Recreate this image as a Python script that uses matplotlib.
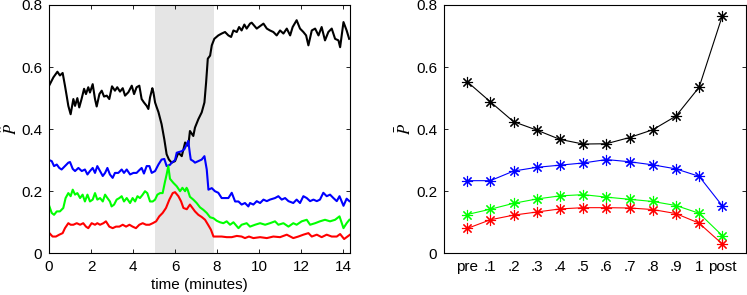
import matplotlib
matplotlib.use("Agg")
import matplotlib.pyplot as plt
from matplotlib.ticker import FuncFormatter

plt.rcParams['font.family'] = ['Liberation Sans', 'DejaVu Sans']
plt.rcParams['mathtext.fontset'] = 'stix'

# ---------------- left panel data (time series) ----------------
black_t = [0.02, 0.21, 0.40, 0.52, 0.65, 0.76, 0.84, 0.92, 1.03, 1.16, 1.24, 1.35, 1.44, 1.55, 1.67, 1.76,
           1.87, 1.95, 2.08, 2.19, 2.27, 2.40, 2.51, 2.62, 2.75, 2.87, 3.00, 3.14, 3.25, 3.38, 3.51, 3.62,
           3.78, 3.94, 4.05, 4.17, 4.30, 4.41, 4.52, 4.65, 4.73, 4.81, 4.92, 4.97, 5.05, 5.13, 5.21, 5.36,
           5.49, 5.60, 5.71, 5.84, 6.00, 6.16, 6.32, 6.48, 6.63, 6.71, 6.87, 6.95, 7.11, 7.27, 7.40, 7.48,
           7.56, 7.67, 7.75, 7.87, 8.06, 8.22, 8.38, 8.54, 8.67, 8.78, 8.94, 9.05, 9.17, 9.30, 9.41, 9.57,
           9.65, 9.89, 10.05, 10.21, 10.37, 10.52, 10.68, 10.84, 11.00, 11.16, 11.32, 11.48, 11.60, 11.79,
           11.95, 12.11, 12.24, 12.35, 12.51, 12.67, 12.83, 12.98, 13.14, 13.30, 13.46, 13.62, 13.78, 13.86,
           14.02, 14.17, 14.29]
black_v = [0.542, 0.567, 0.585, 0.573, 0.581, 0.540, 0.508, 0.475, 0.448, 0.497, 0.475, 0.500, 0.470, 0.497,
           0.530, 0.513, 0.535, 0.518, 0.545, 0.497, 0.473, 0.513, 0.524, 0.505, 0.508, 0.497, 0.538, 0.524,
           0.535, 0.521, 0.532, 0.508, 0.519, 0.540, 0.513, 0.535, 0.540, 0.497, 0.486, 0.475, 0.465, 0.502,
           0.532, 0.519, 0.486, 0.470, 0.455, 0.416, 0.367, 0.319, 0.302, 0.292, 0.297, 0.324, 0.313, 0.357,
           0.346, 0.394, 0.378, 0.405, 0.432, 0.454, 0.486, 0.551, 0.627, 0.637, 0.670, 0.691, 0.702, 0.708,
           0.713, 0.702, 0.697, 0.718, 0.713, 0.729, 0.718, 0.737, 0.724, 0.740, 0.743, 0.724, 0.732, 0.740,
           0.724, 0.718, 0.713, 0.702, 0.718, 0.708, 0.724, 0.702, 0.729, 0.751, 0.724, 0.713, 0.702, 0.670,
           0.718, 0.724, 0.702, 0.729, 0.686, 0.713, 0.724, 0.691, 0.686, 0.664, 0.745, 0.718, 0.691]

blue_t = [0.02, 0.13, 0.24, 0.37, 0.49, 0.60, 0.76, 0.92, 1.00, 1.13, 1.24, 1.40, 1.56, 1.71, 1.83, 1.95,
          2.08, 2.19, 2.30, 2.43, 2.56, 2.67, 2.78, 2.90, 3.03, 3.14, 3.30, 3.46, 3.57, 3.70, 3.86, 4.02,
          4.17, 4.30, 4.41, 4.52, 4.65, 4.78, 4.89, 5.05, 5.21, 5.36, 5.49, 5.60, 5.76, 5.84, 6.00, 6.08,
          6.32, 6.44, 6.56, 6.63, 6.71, 6.75, 6.87, 6.95, 7.11, 7.27, 7.40, 7.51, 7.59, 7.75, 7.90, 8.06,
          8.22, 8.38, 8.54, 8.70, 8.86, 9.02, 9.17, 9.33, 9.49, 9.57, 9.73, 9.89, 10.05, 10.21, 10.37, 10.52,
          10.76, 10.92, 11.08, 11.24, 11.40, 11.63, 11.79, 11.95, 12.11, 12.27, 12.43, 12.59, 12.75, 12.90,
          13.06, 13.22, 13.38, 13.54, 13.70, 13.83, 14.02, 14.17, 14.30]
blue_v = [0.300, 0.297, 0.281, 0.286, 0.275, 0.270, 0.281, 0.292, 0.294, 0.272, 0.265, 0.275, 0.265, 0.270,
          0.254, 0.265, 0.275, 0.259, 0.281, 0.265, 0.249, 0.259, 0.275, 0.254, 0.243, 0.259, 0.259, 0.270,
          0.259, 0.270, 0.254, 0.259, 0.259, 0.268, 0.275, 0.257, 0.281, 0.281, 0.259, 0.265, 0.286, 0.302,
          0.304, 0.281, 0.285, 0.292, 0.300, 0.324, 0.329, 0.335, 0.351, 0.362, 0.320, 0.302, 0.297, 0.292,
          0.297, 0.302, 0.313, 0.270, 0.205, 0.210, 0.200, 0.195, 0.178, 0.178, 0.178, 0.195, 0.167, 0.167,
          0.157, 0.162, 0.151, 0.162, 0.157, 0.168, 0.162, 0.173, 0.168, 0.173, 0.178, 0.184, 0.173, 0.178,
          0.168, 0.162, 0.173, 0.162, 0.184, 0.178, 0.168, 0.173, 0.168, 0.173, 0.195, 0.184, 0.189, 0.178,
          0.168, 0.184, 0.153, 0.176, 0.168]

green_t = [0.02, 0.13, 0.24, 0.37, 0.52, 0.68, 0.79, 0.92, 1.03, 1.13, 1.24, 1.35, 1.48, 1.60, 1.71, 1.83,
           1.95, 2.08, 2.19, 2.30, 2.43, 2.56, 2.67, 2.78, 2.90, 2.98, 3.10, 3.22, 3.35, 3.46, 3.57, 3.70,
           3.86, 3.98, 4.10, 4.21, 4.33, 4.46, 4.57, 4.68, 4.81, 4.94, 5.05, 5.16, 5.29, 5.41, 5.52, 5.60,
           5.68, 5.76, 5.92, 6.08, 6.24, 6.35, 6.48, 6.55, 6.60, 6.71, 6.87, 7.03, 7.19, 7.35, 7.51, 7.67,
           7.83, 7.98, 8.14, 8.30, 8.46, 8.62, 8.78, 9.02, 9.17, 9.41, 9.57, 9.81, 10.05, 10.29, 10.52, 10.76,
           10.92, 11.16, 11.40, 11.63, 11.79, 12.03, 12.27, 12.43, 12.67, 12.90, 13.14, 13.38, 13.62, 13.83,
           14.02, 14.17, 14.30]
green_v = [0.151, 0.130, 0.124, 0.135, 0.135, 0.146, 0.178, 0.194, 0.184, 0.205, 0.189, 0.194, 0.178, 0.189,
           0.167, 0.189, 0.167, 0.173, 0.194, 0.173, 0.178, 0.167, 0.189, 0.178, 0.167, 0.151, 0.157, 0.173,
           0.178, 0.184, 0.167, 0.178, 0.162, 0.178, 0.167, 0.184, 0.178, 0.189, 0.200, 0.194, 0.167, 0.167,
           0.173, 0.189, 0.194, 0.194, 0.230, 0.254, 0.281, 0.240, 0.227, 0.216, 0.200, 0.211, 0.200, 0.211,
           0.205, 0.182, 0.173, 0.162, 0.148, 0.140, 0.130, 0.116, 0.113, 0.105, 0.100, 0.097, 0.103, 0.092,
           0.100, 0.081, 0.092, 0.097, 0.086, 0.092, 0.097, 0.092, 0.097, 0.103, 0.092, 0.097, 0.086, 0.097,
           0.092, 0.103, 0.108, 0.092, 0.097, 0.103, 0.108, 0.103, 0.108, 0.119, 0.081, 0.097, 0.108]

red_t = [0.02, 0.17, 0.33, 0.49, 0.65, 0.76, 0.92, 1.03, 1.16, 1.32, 1.48, 1.63, 1.76, 1.87, 2.03, 2.19,
         2.30, 2.43, 2.59, 2.71, 2.87, 3.03, 3.19, 3.35, 3.51, 3.67, 3.83, 3.98, 4.14, 4.30, 4.46, 4.62,
         4.78, 4.94, 5.10, 5.25, 5.41, 5.57, 5.73, 5.89, 6.00, 6.16, 6.29, 6.40, 6.56, 6.71, 6.83, 6.95,
         7.11, 7.27, 7.43, 7.59, 7.71, 7.83, 7.98, 8.22, 8.46, 8.70, 8.94, 9.17, 9.33, 9.52, 9.73, 10.05,
         10.37, 10.68, 11.00, 11.32, 11.63, 11.87, 12.11, 12.35, 12.51, 12.75, 12.98, 13.22, 13.46, 13.70,
         13.86, 14.05, 14.21, 14.33]
red_v = [0.065, 0.054, 0.054, 0.060, 0.065, 0.081, 0.097, 0.092, 0.092, 0.097, 0.092, 0.097, 0.086, 0.081,
         0.097, 0.092, 0.097, 0.092, 0.097, 0.103, 0.086, 0.081, 0.086, 0.086, 0.092, 0.086, 0.092, 0.086,
         0.081, 0.092, 0.097, 0.092, 0.092, 0.097, 0.103, 0.119, 0.130, 0.146, 0.173, 0.194, 0.197, 0.184,
         0.167, 0.146, 0.142, 0.157, 0.146, 0.135, 0.124, 0.117, 0.108, 0.090, 0.076, 0.054, 0.054, 0.054,
         0.052, 0.052, 0.056, 0.054, 0.049, 0.054, 0.049, 0.052, 0.049, 0.054, 0.052, 0.060, 0.049, 0.054,
         0.060, 0.065, 0.054, 0.060, 0.052, 0.060, 0.054, 0.054, 0.062, 0.046, 0.054, 0.060]

shade_start, shade_end = 5.05, 7.84

# ---------------- right panel data ----------------
categories = ['pre', '.1', '.2', '.3', '.4', '.5', '.6', '.7', '.8', '.9', '1', 'post']
bar_black = [0.553, 0.488, 0.424, 0.397, 0.367, 0.352, 0.353, 0.373, 0.398, 0.442, 0.535, 0.765]
bar_blue = [0.234, 0.234, 0.265, 0.277, 0.284, 0.291, 0.302, 0.295, 0.285, 0.272, 0.248, 0.153]
bar_green = [0.125, 0.142, 0.161, 0.175, 0.185, 0.189, 0.181, 0.174, 0.167, 0.154, 0.129, 0.057]
bar_red = [0.080, 0.108, 0.123, 0.133, 0.143, 0.147, 0.147, 0.146, 0.141, 0.128, 0.097, 0.030]

colors = ['black', (0, 0, 1), (0, 1, 0), (1, 0, 0)]

fig = plt.figure(figsize=(7.47, 2.95), dpi=100)
FS = 11

def style(ax):
    ax.tick_params(direction='in', top=True, right=True, labelsize=FS, length=3, width=0.6, pad=5)
    for s in ax.spines.values():
        s.set_linewidth(0.8)
    ax.yaxis.set_major_formatter(FuncFormatter(lambda v, p: '0' if abs(v) < 1e-9 else ('%g' % v)))

ax1 = fig.add_axes([49 / 747, 1 - 253.3 / 295, (350 - 49) / 747, (253.3 - 5) / 295])
ax1.axvspan(shade_start, shade_end, color=(0.898, 0.898, 0.898), lw=0, zorder=0)
for (t, v), c in zip([(black_t, black_v), (blue_t, blue_v), (green_t, green_v), (red_t, red_v)], colors):
    ax1.plot(t, v, color=c, lw=1.5)
ax1.set_xlim(0, 14.33)
ax1.set_ylim(0, 0.8)
ax1.set_xticks(range(0, 15, 2))
ax1.set_yticks([0, 0.2, 0.4, 0.6, 0.8])
style(ax1)
ax1.set_xlabel('time (minutes)', fontsize=FS, labelpad=3)
ax1.set_ylabel(r'$\hat{P}$', fontsize=12, va='center')
ax1.yaxis.set_label_coords(-0.132, 0.5)

ax2 = fig.add_axes([444 / 747, 1 - 253.3 / 295, (745.5 - 444) / 747, (253.3 - 5) / 295])
xs = list(range(1, len(categories) + 1))
for vals, c in zip([bar_black, bar_blue, bar_green, bar_red], colors):
    ax2.plot(xs, vals, color=c, lw=0.8, marker=(8, 2, 0), markersize=8, markeredgewidth=0.8)
ax2.set_xlim(0, 13)
ax2.set_ylim(0, 0.8)
ax2.set_xticks(xs)
ax2.set_xticklabels(categories)
ax2.set_yticks([0, 0.2, 0.4, 0.6, 0.8])
style(ax2)
ax2.tick_params(axis='x', length=0)
ax2.set_ylabel(r'$\bar{P}$', fontsize=12, va='center')
ax2.yaxis.set_label_coords(-0.132, 0.5)

fig.savefig('out.png', dpi=100)
